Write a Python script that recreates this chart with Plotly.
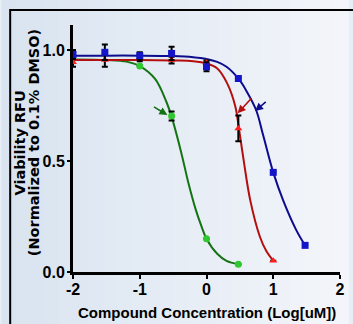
import plotly.graph_objects as go

# ---- data ----
log_conc = [-2, -1.523, -1, -0.523, 0, 0.477, 1, 1.477]

blue_y = [0.98, 0.99, 0.975, 0.985, 0.925, 0.872, 0.449, 0.12]
blue_err = [0.02, 0.035, 0.015, 0.03, 0.02, 0, 0, 0]

red_x = [-2, -1.523, -1, -0.523, 0, 0.477, 1]
red_y = [0.945, 0.955, 0.965, 0.955, 0.943, 0.647, 0.051]
red_err = [0.02, 0.03, 0.015, 0.015, 0.01, 0.058, 0]

green_x = [-1, -0.523, 0, 0.477]
green_y = [0.928, 0.703, 0.15, 0.035]
green_err = [0, 0.02, 0, 0]

# fitted curves, points
blue_fit_x = [-2, -1.5, -1, -0.5, -0.2, 0, 0.16, 0.3, 0.477, 0.6, 0.743, 0.85, 1.0, 1.147, 1.343, 1.477]
blue_fit_y = [0.975, 0.975, 0.975, 0.973, 0.968, 0.96, 0.947, 0.925, 0.872, 0.815, 0.73, 0.615, 0.449, 0.324, 0.19, 0.12]

red_fit_x = [-2, -1, -0.5, -0.2, 0, 0.162, 0.31, 0.433, 0.477, 0.556, 0.655, 0.8, 0.9, 1.0]
red_fit_y = [0.955, 0.955, 0.953, 0.95, 0.94, 0.917, 0.85, 0.745, 0.665, 0.505, 0.324, 0.159, 0.092, 0.051]

green_fit_x = [-2, -1.5, -1.2, -1, -0.77, -0.6, -0.523, -0.38, -0.27, -0.16, -0.08, 0, 0.16, 0.3, 0.477]
green_fit_y = [0.958, 0.955, 0.948, 0.928, 0.87, 0.766, 0.70, 0.54, 0.40, 0.28, 0.21, 0.15, 0.082, 0.05, 0.035]

x_ticks = [-2, -1, 0, 1, 2]
y_ticks = [0.0, 0.5, 1.0]
y_tick_text = ["0.0", "0.5", "1.0"]

x_title = "Compound Concentration (Log[uM])"
y_title_1 = "Viability RFU"
y_title_2 = "(Normalized to 0.1% DMSO)"

# ---- styling ----
NARROW = "Liberation Sans Narrow, Arial Narrow, Liberation Sans, Arial, sans-serif"
WIDE = "DejaVu Sans, Verdana, sans-serif"

BLUE_LINE, BLUE_MK = "#0c0c8c", "#1414c8"
RED_LINE, RED_MK = "#b40f0f", "#ff1e1e"
GREEN_LINE, GREEN_MK = "#147314", "#30c830"

W, H = 353, 324
L, R, T, B = 73, 8, 25, 52
PW, PH = W - L - R, H - T - B

def px_x(p):
    return (p - L) / PW

def px_y(p):
    return (H - B - p) / PH

fig = go.Figure()

for fx, fy, col in [(green_fit_x, green_fit_y, GREEN_LINE),
                    (red_fit_x, red_fit_y, RED_LINE),
                    (blue_fit_x, blue_fit_y, BLUE_LINE)]:
    fig.add_trace(go.Scatter(x=fx, y=fy, mode="lines",
                             line=dict(color=col, width=2, shape="spline", smoothing=1.0),
                             hoverinfo="skip", showlegend=False))

def err(vals):
    return dict(type="data", array=vals, visible=True, color="black", thickness=2, width=3)

fig.add_trace(go.Scatter(x=green_x, y=green_y, mode="markers",
                         marker=dict(symbol="circle", size=7, color=GREEN_MK),
                         error_y=err(green_err), showlegend=False))
fig.add_trace(go.Scatter(x=red_x, y=red_y, mode="markers",
                         marker=dict(symbol="triangle-up", size=7, color=RED_MK),
                         error_y=err(red_err), showlegend=False))
fig.add_trace(go.Scatter(x=log_conc, y=blue_y, mode="markers",
                         marker=dict(symbol="square", size=7, color=BLUE_MK),
                         error_y=err(blue_err), showlegend=False))

arrows = [
    (-0.586, 0.707, -0.81, 0.748, GREEN_LINE),
    (0.467, 0.715, 0.694, 0.79, RED_LINE),
    (0.728, 0.725, 0.91, 0.772, BLUE_LINE),
]
annotations = []
for hx, hy, tx, ty, col in arrows:
    annotations.append(dict(x=hx, y=hy, ax=tx, ay=ty, xref="x", yref="y",
                            axref="x", ayref="y", text="", showarrow=True,
                            arrowhead=2, arrowsize=1.0, arrowwidth=1.6, arrowcolor=col))

# axis titles
annotations.append(dict(text=x_title, x=0.5, y=px_y(312), xref="paper", yref="paper",
                        xanchor="center", yanchor="middle", showarrow=False,
                        font=dict(family=NARROW, size=15, color="black", weight="bold")))
annotations.append(dict(text=y_title_1, x=px_x(18), y=px_y(143.5),
                        xref="paper", yref="paper", xanchor="center", yanchor="middle",
                        textangle=-90, showarrow=False,
                        font=dict(family=WIDE, size=14.5, color="black", weight="bold")))
annotations.append(dict(text=y_title_2, x=px_x(33), y=px_y(142.5),
                        xref="paper", yref="paper", xanchor="center", yanchor="middle",
                        textangle=-90, showarrow=False,
                        font=dict(family=WIDE, size=14.5, color="black", weight="bold")))

# soft left-to-right background gradient (decoration)
shapes = []
n_strips = 24
c0 = (217, 228, 240)
c1 = (243, 245, 250)
for i in range(n_strips):
    t = i / (n_strips - 1)
    c = tuple(round(a + (b - a) * t) for a, b in zip(c0, c1))
    shapes.append(dict(type="rect", xref="paper", yref="paper", layer="below",
                       x0=px_x(W * i / n_strips), x1=px_x(W * (i + 1) / n_strips + 1),
                       y0=px_y(H), y1=px_y(0),
                       line=dict(width=0), fillcolor="rgb(%d,%d,%d)" % c))
shapes.append(dict(type="rect", xref="paper", yref="paper",
                   x0=px_x(9), x1=px_x(380), y0=px_y(360), y1=px_y(10),
                   line=dict(color="black", width=2), layer="above"))

fig.update_layout(
    width=W, height=H,
    margin=dict(l=L, r=R, t=T, b=B),
    paper_bgcolor="#e8eef5",
    plot_bgcolor="rgba(0,0,0,0)",
    annotations=annotations,
    shapes=shapes,
)

fig.update_xaxes(range=[-2, 2], tickvals=x_ticks, ticktext=[str(v) for v in x_ticks],
                 showgrid=False, zeroline=False, showline=True, linecolor="black", linewidth=3,
                 ticks="outside", ticklen=4, tickwidth=2, tickcolor="black",
                 ticklabelstandoff=-3,
                 tickfont=dict(family=NARROW, size=16, color="black", weight="bold"))
fig.update_yaxes(range=[0, 1.113], tickvals=y_ticks, ticktext=y_tick_text,
                 showgrid=False, zeroline=False, showline=True, linecolor="black", linewidth=3,
                 ticks="outside", ticklen=3, tickwidth=2, tickcolor="black",
                 ticklabelstandoff=-1,
                 tickfont=dict(family=NARROW, size=16, color="black", weight="bold"))

fig.write_html("out.html")
